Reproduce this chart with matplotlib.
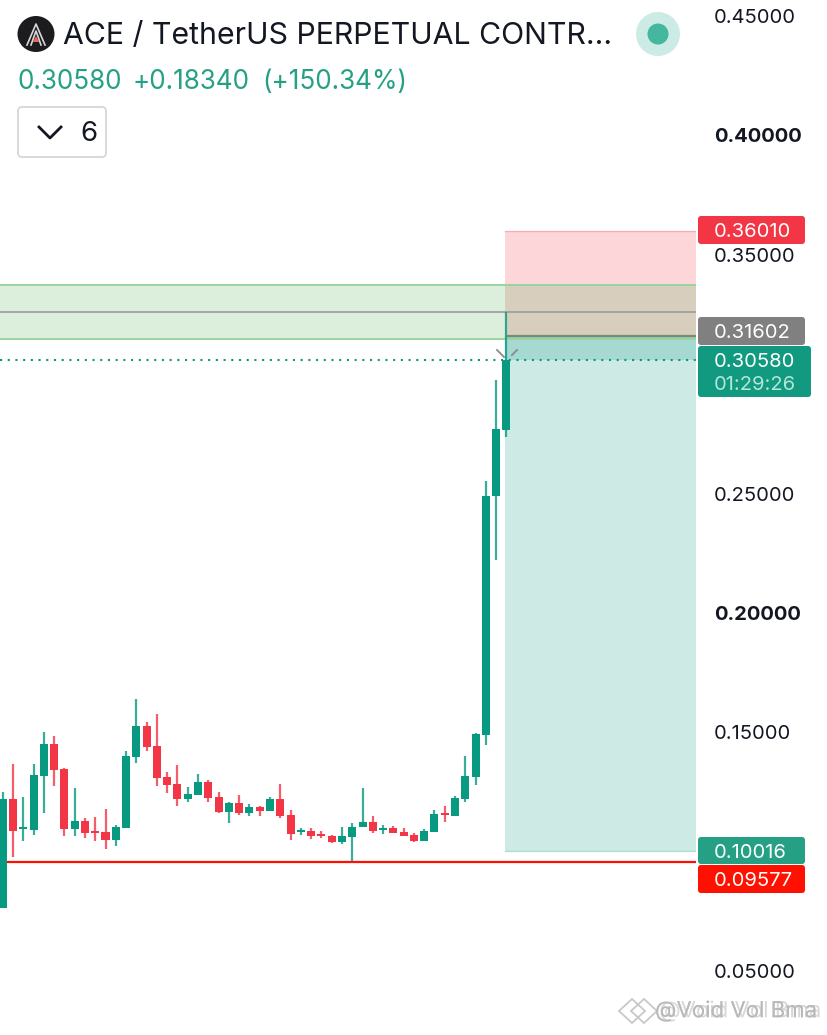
import numpy as np
import matplotlib
matplotlib.use('Agg')
import matplotlib.pyplot as plt
import matplotlib.patheffects as pe
from matplotlib.patches import FancyBboxPatch, Ellipse, Polygon

highs = [0.1250, 0.1367, 0.1229, 0.1367, 0.1501, 0.1484, 0.1350, 0.1266, 0.1141, 0.1145,
         0.1178, 0.1111, 0.1421, 0.1639, 0.1543, 0.1576, 0.1333, 0.1363, 0.1270, 0.1325,
         0.1300, 0.1250, 0.1208, 0.1237, 0.1199, 0.1191, 0.1229, 0.1283, 0.1174, 0.1099,
         0.1099, 0.1086, 0.1069, 0.1103, 0.1120, 0.1266, 0.1149, 0.1111, 0.1107, 0.1099,
         0.1078, 0.1094, 0.1174, 0.1191, 0.1233, 0.1400, 0.1497, 0.2554, 0.2976, 0.3261]
lows = [0.0764, 0.0977, 0.1044, 0.1069, 0.1162, 0.1275, 0.1065, 0.1065, 0.1057, 0.1044,
        0.1011, 0.1023, 0.1099, 0.1371, 0.1421, 0.1275, 0.1245, 0.1191, 0.1208, 0.1237,
        0.1208, 0.1162, 0.1120, 0.1153, 0.1149, 0.1149, 0.1170, 0.1141, 0.1048, 0.1069,
        0.1053, 0.1057, 0.1036, 0.1032, 0.0961, 0.1103, 0.1078, 0.1074, 0.1078, 0.1065,
        0.1040, 0.1044, 0.1082, 0.1124, 0.1149, 0.1208, 0.1279, 0.1447, 0.2223, 0.2738]
opens = [0.0764, 0.1220, 0.1094, 0.1090, 0.1317, 0.1451, 0.1346, 0.1094, 0.1128, 0.1086,
         0.1082, 0.1048, 0.1099, 0.1396, 0.1526, 0.1442, 0.1312, 0.1283, 0.1220, 0.1237,
         0.1291, 0.1229, 0.1166, 0.1203, 0.1162, 0.1187, 0.1170, 0.1220, 0.1153, 0.1082,
         0.1086, 0.1074, 0.1065, 0.1040, 0.1061, 0.1103, 0.1124, 0.1090, 0.1099, 0.1082,
         0.1069, 0.1044, 0.1082, 0.1162, 0.1149, 0.1220, 0.1312, 0.1489, 0.2491, 0.2767]
closes = [0.1220, 0.1086, 0.1103, 0.1321, 0.1451, 0.1342, 0.1094, 0.1128, 0.1078, 0.1078,
          0.1048, 0.1103, 0.1400, 0.1526, 0.1438, 0.1308, 0.1279, 0.1220, 0.1241, 0.1291,
          0.1224, 0.1166, 0.1203, 0.1162, 0.1187, 0.1170, 0.1220, 0.1149, 0.1074, 0.1090,
          0.1065, 0.1065, 0.1040, 0.1065, 0.1103, 0.1124, 0.1086, 0.1099, 0.1078, 0.1065,
          0.1044, 0.1086, 0.1157, 0.1153, 0.1224, 0.1317, 0.1493, 0.2491, 0.2771, 0.3058]

axis_ticks = [0.05, 0.15, 0.20, 0.25, 0.35, 0.40, 0.45]
bold_ticks = [0.20, 0.40]

target_price = 0.36010
entry_price = 0.31602
last_price = 0.30580
stop_price = 0.10016
support_price = 0.09577
band_top = 0.3373
band_mid = 0.3260
band_bottom = 0.3147

GREEN = '#089981'
RED = '#f23645'
FONT = 'Inter'

plt.rcParams['font.family'] = [FONT, 'DejaVu Sans']

fig = plt.figure(figsize=(8.28, 10.35), dpi=100)
ax = fig.add_axes([0, 0, 696 / 828, 1])
ax.set_xlim(-0.263, 67.44)
ax.set_ylim(0.0232, 0.4567)
for s in ax.spines.values():
    s.set_visible(False)
ax.set_xticks([])

# right price scale
ax.yaxis.tick_right()
ax.set_yticks(axis_ticks)
ax.set_yticklabels(['%.5f' % t for t in axis_ticks], fontsize=14.5, color='#131722')
ax.tick_params(axis='y', length=0, pad=13)
for lab, t in zip(ax.get_yticklabels(), axis_ticks):
    if t in bold_ticks:
        lab.set_fontweight('bold')

# position tool and zone
zone = 505 / 696
ax.axhspan(entry_price, target_price, xmin=zone, color=RED, alpha=0.2, lw=0, zorder=1)
ax.axhspan(stop_price, entry_price, xmin=zone, color=GREEN, alpha=0.2, lw=0, zorder=1)
ax.axhspan(last_price, entry_price, xmin=zone, color=GREEN, alpha=0.2, lw=0, zorder=1)
ax.axhspan(band_bottom, band_top, color='#4caf50', alpha=0.2, lw=0, zorder=1.5)
ax.axhline(band_top, color='#9ad49c', lw=1.4, zorder=2)
ax.axhline(band_bottom, color='#9ad49c', lw=1.4, zorder=2)
ax.axhline(band_mid, color='#a3a3a3', lw=1.4, zorder=2)
ax.axhline(target_price, xmin=zone, color=RED, alpha=0.25, lw=1, zorder=2)
ax.axhline(stop_price, xmin=zone, color=GREEN, alpha=0.3, lw=1, zorder=2)
ax.axhline(entry_price, xmin=zone + 0.005, color='#7a8a78', lw=1.6, zorder=2)

# candles
x = np.arange(len(opens))
opens = np.array(opens)
closes = np.array(closes)
colors = [GREEN if c >= o else RED for o, c in zip(opens, closes)]
ax.vlines(x, lows, highs, colors=colors, lw=1.6, alpha=0.8, zorder=3)
ax.bar(x, np.abs(closes - opens), bottom=np.minimum(opens, closes), width=0.78,
       color=colors, lw=0, zorder=4)

ax.axhline(support_price, color='#ff0f00', lw=1.6, zorder=3.5)
ax.axhline(last_price, color=GREEN, lw=1.5, ls=(0, (1, 2.7)), zorder=5)

# everything else is laid out in pixels on a top layer
top = fig.add_axes([0, 0, 1, 1], facecolor='none')
top.set_xlim(0, 828)
top.set_ylim(1035, 0)
top.axis('off')


def price_box(x0, y0, x1, y1, color):
    top.add_patch(FancyBboxPatch((x0 + 3, y0 + 3), x1 - x0 - 6, y1 - y0 - 6,
                                 boxstyle='round,pad=3', fc=color, ec='none', zorder=6))


price_box(698, 216, 805, 244, RED)
price_box(698, 317, 805, 345, '#808080')
price_box(698, 346, 811, 397, '#119a80')
price_box(698, 837, 805, 864, '#26a085')
price_box(698, 865, 805, 893, '#ff1000')
for label, y, col in [('0.36010', 232, 'white'), ('0.31602', 333, 'white'),
                      ('0.30580', 362, 'white'), ('01:29:26', 385, '#b5e6da'),
                      ('0.10016', 853, 'white'), ('0.09577', 881, 'white')]:
    top.text(714, y, label, fontsize=14.5, color=col, va='center', ha='left', zorder=7)

# crosshair ticks near the last candle
top.plot([497, 504], [350, 357], color='#8a8a8a', lw=1.3)
top.plot([512, 517], [355, 350], color='#8a8a8a', lw=1.3)

# header
top.add_patch(Ellipse((36, 34), 37, 36, fc='#1c1c1e', ec='none'))
top.plot([27, 36, 45], [45, 24, 45], color='#d8d8d8', lw=1.2)
top.plot([31, 36, 41], [45, 31, 45], color='#d8d8d8', lw=1.2)
top.add_patch(Polygon([[33, 42], [39, 42], [36, 36]], fc='#f0645a', ec='none'))
top.text(63, 36, 'ACE / TetherUS PERPETUAL CONTR...', fontsize=21.8, color='#131722',
         va='center', ha='left')
top.text(18, 82, '0.30580', fontsize=18.8, color='#26a085', va='center', ha='left')
top.text(133, 82, '+0.18340', fontsize=18.8, color='#26a085', va='center', ha='left')
top.text(262, 82, '(+150.34%)', fontsize=18.8, color='#26a085', va='center', ha='left')
top.add_patch(Ellipse((658, 34), 44, 44, fc='#cdebe5', ec='none'))
top.add_patch(Ellipse((658, 34), 21, 21, fc='#45b79f', ec='none'))

top.add_patch(FancyBboxPatch((22, 111), 80, 42, boxstyle='round,pad=4',
                             fc='white', ec='#d6d6d6', lw=1.3))
top.plot([39, 50, 61], [127, 138, 127], color='#131722', lw=2)
top.text(80, 134, '6', fontsize=20, color='#131722', va='center', ha='left')

# watermark, doubled stamp as in the screenshot
wm = top.text(655, 1011, '@Void Vol Bma', fontsize=16, color='#b8b8b8', alpha=0.85,
              va='center', ha='left')
wm.set_path_effects([pe.withSimplePatchShadow(offset=(3, 0), shadow_rgbFace='#c8c8c8', alpha=0.7),
                     pe.Normal()])
for cx in [632, 644]:
    top.add_patch(Polygon([[cx - 13, 1011], [cx, 999], [cx + 13, 1011], [cx, 1023]],
                          fc='none', ec='#c8c8c8', lw=1.3))

fig.savefig('out.png', dpi=100)
